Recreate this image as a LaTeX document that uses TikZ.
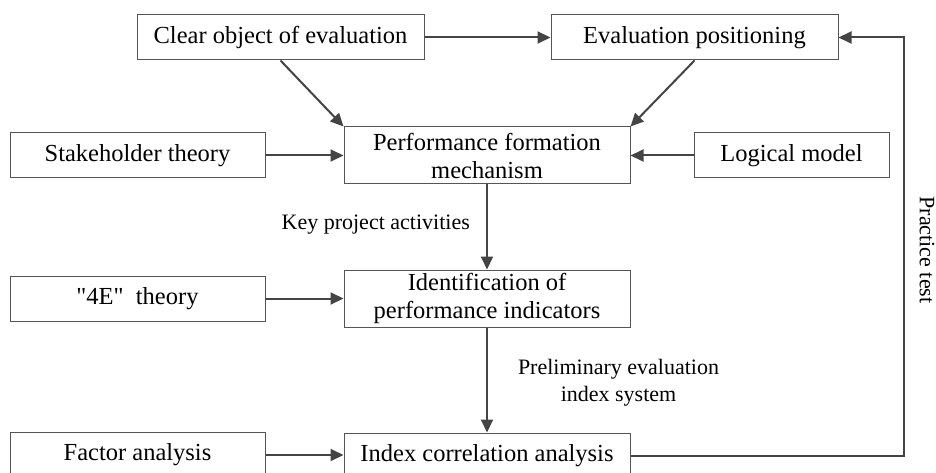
\documentclass[tikz,border=0pt]{standalone}
\usepackage{fontspec}
\setmainfont[Ligatures=TeXOff]{Liberation Serif}
\usetikzlibrary{arrows.meta}
\definecolor{boxline}{HTML}{555555}
\definecolor{conn}{HTML}{444444}
\tikzset{
  box/.style={draw=boxline, line width=1pt, inner sep=0pt, align=center,
    font=\fontsize{24.5}{28}\selectfont, text=black},
  lbl/.style={inner sep=0pt, align=center, font=\fontsize{22}{27}\selectfont, text=black},
  arr/.style={draw=conn, line width=2pt, -{Triangle[length=13pt,width=12pt]}},
  ln/.style={draw=conn, line width=2pt}
}
\begin{document}
\begin{tikzpicture}[x=1pt,y=-1pt]
\useasboundingbox (0,0) rectangle (936,473);
\clip (0,0) rectangle (936,473);
\node[box, minimum width=287pt, minimum height=45pt] (clear) at (280.5,37.5) {Clear object of evaluation};
\node[box, minimum width=287pt, minimum height=45pt] (eval) at (694.5,37.5) {Evaluation positioning};
\node[box, minimum width=255pt, minimum height=45pt] (stake) at (137.5,155.5) {Stakeholder theory};
\node[box, minimum width=286pt, minimum height=57pt] (perf) at (487,155.5) {Performance formation\\mechanism};
\node[box, minimum width=195pt, minimum height=45pt] (logic) at (791.5,155.5) {Logical model};
\node[box, minimum width=255pt, minimum height=45pt] (four) at (137.5,298.5) {"4E"\ \ theory};
\node[box, minimum width=286pt, minimum height=57pt] (ident) at (487,298.5) {Identification of\\performance indicators};
\node[box, minimum width=255pt, minimum height=45pt] (factor) at (137.5,455) {Factor analysis};
\node[box, minimum width=286pt, minimum height=45pt] (index) at (487,455.5) {Index correlation analysis};

\node[lbl, anchor=east] (kpa) at (470,225) {Key project activities};
\node[lbl] (pei) at (618.5,382.5) {Preliminary evaluation\\index system};
\node[lbl, rotate=-90] (pt) at (927,250) {Practice test};

\coordinate (c1) at (904,455.5);
\coordinate (c2) at (904,37.5);

\draw[arr] (clear.east) -- (eval.west);
\draw[arr] (clear.south) -- (perf.north west);
\draw[arr] (eval.south) -- (perf.north east);
\draw[arr] (stake.east) -- (perf.west);
\draw[arr] (logic.west) -- (perf.east);
\draw[arr] (perf.south) -- (ident.north);
\draw[arr] (four.east) -- (ident.west);
\draw[arr] (ident.south) -- (index.north);
\draw[arr] (factor.east) -- (factor.east -| index.west);
\draw[arr] (index.east) -- (c1) -- (c2) -- (eval.east);
\end{tikzpicture}
\end{document}
